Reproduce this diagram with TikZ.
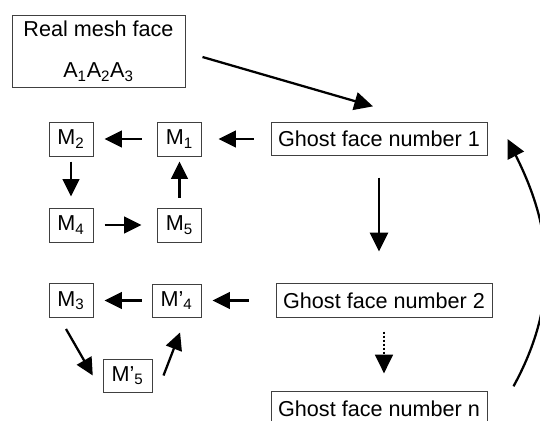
\documentclass[tikz,border=0pt]{standalone}
\usepackage{fontspec}
\setmainfont{Liberation Sans}
\usetikzlibrary{arrows.meta}

\begin{document}
\begin{tikzpicture}[
  x=0.75pt, y=-0.75pt,
  box/.style={draw=black!75, line width=0.75pt, rectangle, inner sep=2pt, align=center, font=\fontsize{16.2}{19.2}\selectfont},
  mbox/.style={box, minimum width=33pt, minimum height=25.5pt},
  pbox/.style={box, minimum width=36.75pt, minimum height=24.75pt},
  ghost/.style={box, minimum width=162pt, minimum height=25pt},
  arrow/.style={-{Triangle[length=13pt,width=12.5pt]}, line width=1.7pt},
  longarrow/.style={-{Triangle[length=14pt,width=13.5pt]}, line width=1.7pt},
  gaps/.style 2 args={shorten <=#1, shorten >=#2}
]
\useasboundingbox (0,0) rectangle (540,421);
\clip (0,0) rectangle (540,421);

% faces
\node[box, minimum width=129.75pt, minimum height=54pt] (real) at (98.5,51) {Real mesh face\\[12pt]A\textsubscript{1}A\textsubscript{2}A\textsubscript{3}};
\node[ghost] (ghost1) at (379,139) {Ghost face number 1};
\node[ghost] (ghost2) at (384,300.5) {Ghost face number 2};
\node[ghost] (ghostn) at (379,408.5) {Ghost face number n};

% points of the first ghost face
\node[mbox] (m1) at (179.5,139) {M\textsubscript{1}};
\node[mbox] (m2) at (71,139) {M\textsubscript{2}};
\node[mbox] (m4) at (71,225) {M\textsubscript{4}};
\node[mbox] (m5) at (179.5,225) {M\textsubscript{5}};

% points of the second ghost face
\node[mbox] (m3) at (71,300.5) {M\textsubscript{3}};
\node[pbox] (m4p) at (176.5,300.5) {M’\textsubscript{4}};
\node[pbox] (m5p) at (127.5,375.5) {M’\textsubscript{5}};

\draw[longarrow] ([xshift=12.75pt,yshift=-4.5pt]real.east) -- ([xshift=-4.5pt,yshift=11.6pt]ghost1.north);
\draw[arrow, gaps={12.75pt}{12.4pt}] (ghost1) -- (m1);
\draw[arrow, gaps={11.6pt}{8.25pt}] (m1) -- (m2);
\draw[arrow, gaps={3.75pt}{8.25pt}] (m2) -- (m4);
\draw[arrow, gaps={8.25pt}{11.6pt}] (m4) -- (m5);
\draw[arrow, gaps={7.5pt}{3.75pt}] (m5) -- (m1);

\draw[longarrow, gaps={16pt}{24pt}] (ghost1.south) -- (ghost1.south |- ghost2.north);
\draw[longarrow, line width=1.4pt, dash pattern=on 1.4pt off 1.6pt, gaps={10.5pt}{13.5pt}] (ghost2.south) -- (ghost2.south |- ghostn.north);

\draw[arrow, gaps={20.25pt}{8.25pt}] (ghost2) -- (m4p);
\draw[arrow, gaps={7.5pt}{8.25pt}] (m4p) -- (m3);
\draw[arrow, shorten <=9.5pt] ([xshift=-8.5pt]m3.south) -- ([xshift=-7.3pt]m5p.west);
\draw[arrow, shorten >=12pt] ([xshift=8.25pt]m5p.east) -- ([xshift=7pt]m4p.south);

\draw[longarrow] ([xshift=19.5pt,yshift=3.75pt]ghostn.north east) .. controls +(53,-96.5) and +(37.6,75) .. ([xshift=15pt]ghost1.east);
\end{tikzpicture}
\end{document}
